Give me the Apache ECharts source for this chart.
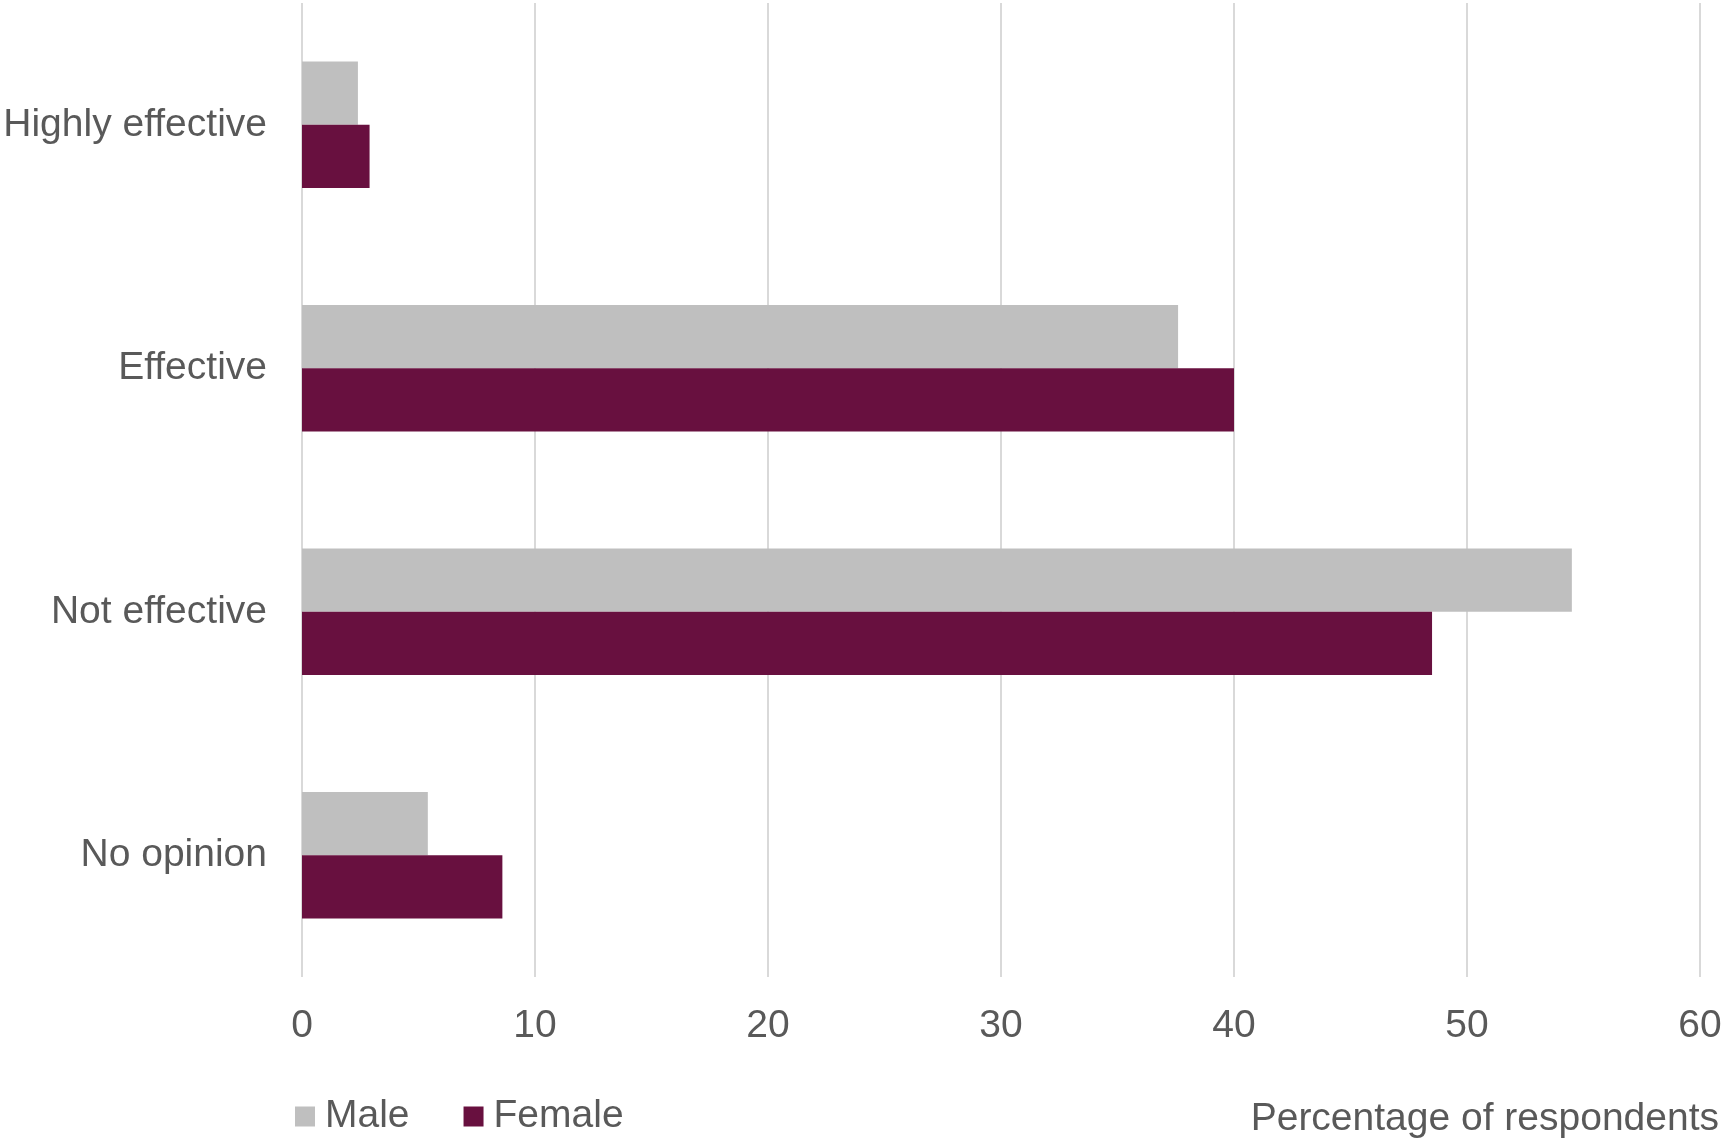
<!DOCTYPE html>
<html>
<head>
<meta charset="utf-8">
<script src="https://cdn.jsdelivr.net/npm/echarts@6/dist/echarts.min.js"></script>
<style>
html,body{margin:0;padding:0;background:#fff;overflow:hidden;}
#main{width:1728px;height:1140px;}
</style>
</head>
<body>
<div id="main"></div>
<script>
var categories = ['Highly effective', 'Effective', 'Not effective', 'No opinion'];
var maleValues = [2.4, 37.6, 54.5, 5.4];
var femaleValues = [2.9, 40.0, 48.5, 8.6];
var xTicks = [0, 10, 20, 30, 40, 50, 60];
var seriesNames = ['Male', 'Female'];
var axisTitle = 'Percentage of respondents';

var FONT = '"Liberation Sans", Arial, sans-serif';
var TEXT = '#595959';

var chart = echarts.init(document.getElementById('main'), null, {renderer: 'canvas'});
chart.setOption({
  backgroundColor: '#ffffff',
  animation: false,
  textStyle: {fontFamily: FONT, color: TEXT},
  grid: {left: 302, right: 28, top: 3, bottom: 163, containLabel: false, outerBoundsMode: 'none'},
  title: {
    text: axisTitle,
    right: 9,
    top: 1100,
    padding: 0,
    textStyle: {fontFamily: FONT, fontSize: 39, fontWeight: 'normal', color: TEXT}
  },
  legend: {
    data: seriesNames,
    left: 295,
    top: 1097,
    padding: 0,
    itemWidth: 20,
    itemHeight: 20,
    itemGap: 54,
    icon: 'rect',
    textStyle: {fontFamily: FONT, fontSize: 39, color: TEXT, padding: [0, 0, 0, 5]}
  },
  xAxis: {
    type: 'value',
    min: xTicks[0],
    max: xTicks[xTicks.length - 1],
    interval: xTicks[1] - xTicks[0],
    axisLine: {show: false},
    axisTick: {show: false},
    splitLine: {show: true, lineStyle: {color: '#D9D9D9', width: 2}},
    axisLabel: {fontFamily: FONT, fontSize: 39, color: TEXT, margin: 30}
  },
  yAxis: {
    type: 'category',
    data: categories,
    inverse: true,
    axisLine: {show: false},
    axisTick: {show: false},
    splitLine: {show: false},
    axisLabel: {fontFamily: FONT, fontSize: 39, color: TEXT, margin: 35}
  },
  series: [
    {
      name: seriesNames[0],
      type: 'bar',
      data: maleValues,
      barGap: '0%',
      barCategoryGap: '48%',
      itemStyle: {color: '#BFBFBF'}
    },
    {
      name: seriesNames[1],
      type: 'bar',
      data: femaleValues,
      barGap: '0%',
      barCategoryGap: '48%',
      itemStyle: {color: '#68103F'}
    }
  ]
});
</script>
</body>
</html>
